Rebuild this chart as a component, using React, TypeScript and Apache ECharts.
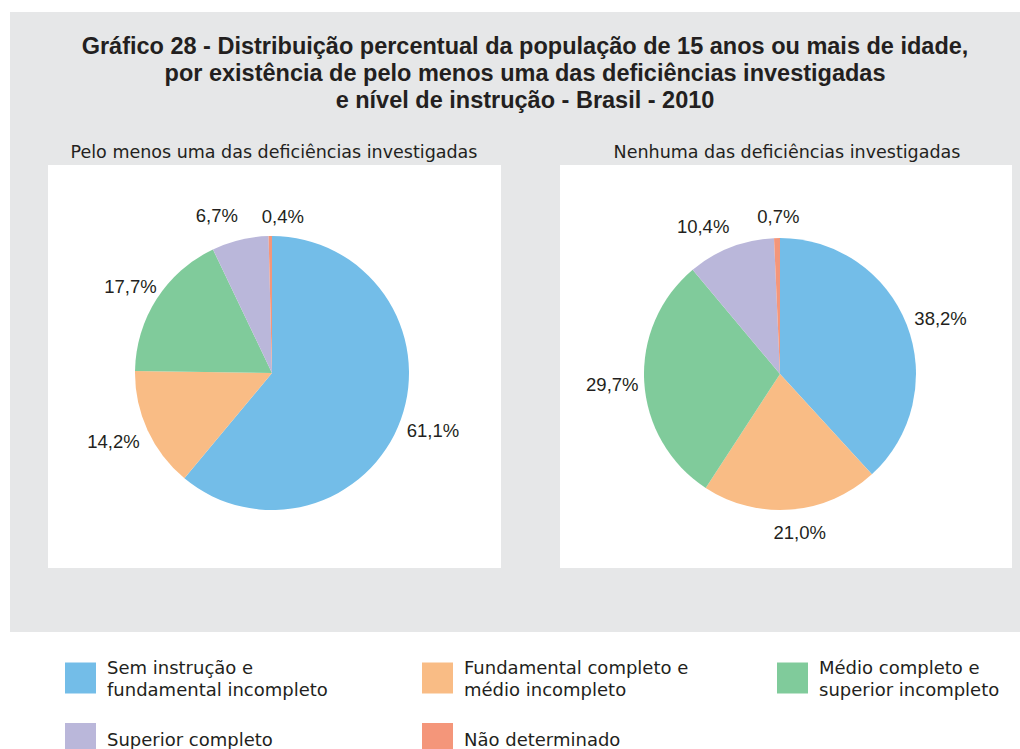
import React, { useEffect, useRef } from "react";
import * as echarts from "echarts";

const categories = [
  "Sem instrução e fundamental incompleto",
  "Fundamental completo e médio incompleto",
  "Médio completo e superior incompleto",
  "Superior completo",
  "Não determinado",
];
const legendLabels = [
  "Sem instrução e\nfundamental incompleto",
  "Fundamental completo e\nmédio incompleto",
  "Médio completo e\nsuperior incompleto",
  "Superior completo",
  "Não determinado",
];
const withDisability = [61.1, 14.2, 17.7, 6.7, 0.4];
const withoutDisability = [38.2, 21.0, 29.7, 10.4, 0.7];
const colors = ["#73BDE8", "#F9BC85", "#80CB9B", "#BAB7DA", "#F4967A"];

const titleText =
  "Gráfico 28 - Distribuição percentual da população de 15 anos ou mais de idade,\npor existência de pelo menos uma das deficiências investigadas\ne nível de instrução - Brasil - 2010";
const subtitles = [
  "Pelo menos uma das deficiências investigadas",
  "Nenhuma das deficiências investigadas",
];

// label nudges (style only)
const leftNudge: [number, number][] = [[3, 0], [-6, -2], [0, 4], [-16, 6], [13, 11]];
const rightNudge: [number, number][] = [[4, 5], [6, -9], [0, 0], [-16, 9], [2, 10]];

const FONT = "'Liberation Sans', Arial, Helvetica, sans-serif";
const FONT2 = "'DejaVu Sans', Verdana, sans-serif";
const TEXT = "#231F20";

const fmt = (v: number) => v.toFixed(1).replace(".", ",") + "%";

export default function App() {
  const ref = useRef<HTMLDivElement>(null);
  useEffect(() => {
    if (!ref.current) return;
    const chart = echarts.init(ref.current, undefined, { renderer: "svg" });
    const mkPie = (vals: number[], center: [number, number], r: number) => ({
      type: "pie",
      center,
      radius: r,
      startAngle: 90,
      clockwise: true,
      silent: true,
      label: { show: false },
      labelLine: { show: false },
      data: vals.map((v, i) => ({ name: categories[i], value: v, itemStyle: { color: colors[i] } })),
      z: 3,
    });
    const mkLabelPie = (vals: number[], center: [number, number], r: number, nudge: [number, number][]) => ({
      type: "pie",
      center,
      radius: [0, r],
      startAngle: 90,
      clockwise: true,
      silent: true,
      minShowLabelAngle: 0,
      avoidLabelOverlap: false,
      itemStyle: { color: "rgba(0,0,0,0)" },
      label: {
        show: true,
        position: "inside",
        rotate: 0,
        color: TEXT,
        fontSize: 18.5,
        fontFamily: FONT,
        formatter: (p: any) => fmt(p.value),
      },
      labelLine: { show: false },
      emphasis: { disabled: true },
      data: vals.map((v, i) => ({ name: categories[i], value: v, label: { offset: nudge[i] } })),
      z: 4,
    });
    const cols = [65, 422, 777];
    const legendPos = [
      { left: cols[0], top: 656, h: 31 },
      { left: cols[1], top: 656, h: 31 },
      { left: cols[2], top: 656, h: 31 },
      { left: cols[0], top: 723, h: 33 },
      { left: cols[1], top: 723, h: 33 },
    ];
    chart.setOption({
      animation: false,
      backgroundColor: "#FFFFFF",
      title: [
        {
          text: titleText,
          left: 525,
          top: 32,
          textAlign: "center",
          padding: 0,
          textStyle: { fontFamily: FONT, fontSize: 23.5, fontWeight: "bold", color: TEXT, lineHeight: 27 },
        },
        {
          text: subtitles[0],
          left: 274,
          top: 142,
          textAlign: "center",
          padding: 0,
          textStyle: { fontFamily: FONT2, fontSize: 17.5, fontWeight: "normal", color: TEXT, lineHeight: 20 },
        },
        {
          text: subtitles[1],
          left: 787,
          top: 142,
          textAlign: "center",
          padding: 0,
          textStyle: { fontFamily: FONT2, fontSize: 17.5, fontWeight: "normal", color: TEXT, lineHeight: 20 },
        },
      ],
      legend: legendPos.map((p, i) => ({
        data: [categories[i]],
        left: p.left,
        top: p.top,
        padding: 0,
        icon: "rect",
        itemWidth: 31,
        itemHeight: p.h,
        selectedMode: false,
        formatter: () => legendLabels[i],
        textStyle: { fontFamily: FONT2, fontSize: 18, color: TEXT, lineHeight: 22, padding: [0, 0, 0, 6] },
      })),
      graphic: [
        { type: "rect", shape: { x: 10, y: 12, width: 1010, height: 620 }, style: { fill: "#E6E7E8" }, z: -10 },
        { type: "rect", shape: { x: 48, y: 165, width: 453, height: 403 }, style: { fill: "#FFFFFF" }, z: -9 },
        { type: "rect", shape: { x: 560, y: 165, width: 452, height: 403 }, style: { fill: "#FFFFFF" }, z: -9 },
      ],
      series: [
        mkPie(withDisability, [272, 373], 137),
        mkPie(withoutDisability, [780, 374], 136),
        mkLabelPie(withDisability, [272, 373], 330, leftNudge),
        mkLabelPie(withoutDisability, [780, 374], 330, rightNudge),
      ],
    });
    return () => chart.dispose();
  }, []);
  return <div ref={ref} style={{ position: "absolute", left: 0, top: 0, width: 1020, height: 749 }} />;
}
